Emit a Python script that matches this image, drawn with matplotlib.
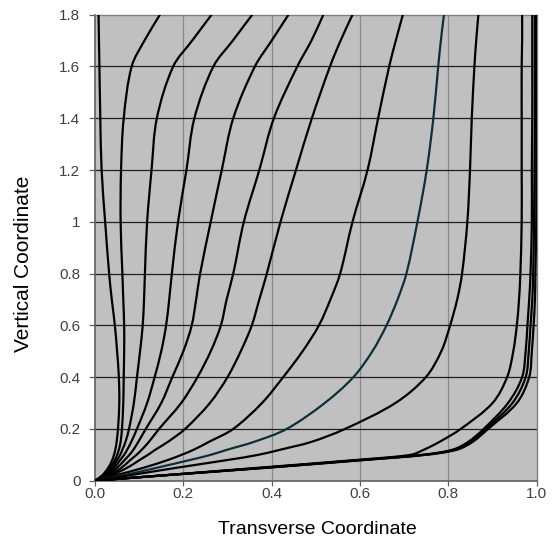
import matplotlib
matplotlib.use("Agg")
import matplotlib.pyplot as plt
from matplotlib.path import Path
from matplotlib.patches import PathPatch
import numpy as np

plt.rcParams['font.family'] = ['Liberation Sans', 'DejaVu Sans']

# common vertical levels
y_levels = [0, 0.02, 0.05, 0.08, 0.10, 0.12, 0.15, 0.2, 0.3, 0.4, 0.5, 0.6,
            0.7, 0.8, 1.0, 1.2, 1.4, 1.6, 1.7, 1.8]

c1 = [0, 0.016, 0.030, 0.039, 0.043, 0.046, 0.049, 0.052, 0.055, 0.054, 0.050, 0.045, 0.038, 0.032, 0.023, 0.015, 0.012, 0.010, 0.009, 0.008]
c2 = [0, 0.018, 0.034, 0.045, 0.050, 0.054, 0.058, 0.061, 0.064, 0.065, 0.066, 0.066, 0.064, 0.062, 0.058, 0.059, 0.065, 0.083, 0.112, 0.147]
c3 = [0, 0.020, 0.038, 0.050, 0.057, 0.062, 0.069, 0.077, 0.088, 0.095, 0.102, 0.108, 0.111, 0.113, 0.118, 0.128, 0.140, 0.177, 0.220, 0.264]
c4 = [0, 0.022, 0.043, 0.057, 0.066, 0.073, 0.082, 0.095, 0.118, 0.135, 0.150, 0.161, 0.168, 0.174, 0.188, 0.207, 0.225, 0.268, 0.312, 0.356]
c5 = [0, 0.025, 0.050, 0.067, 0.078, 0.087, 0.098, 0.115, 0.150, 0.175, 0.200, 0.219, 0.229, 0.238, 0.262, 0.287, 0.313, 0.362, 0.400, 0.438]
c6 = [0, 0.030, 0.060, 0.080, 0.094, 0.106, 0.122, 0.145, 0.195, 0.232, 0.262, 0.285, 0.298, 0.313, 0.337, 0.372, 0.405, 0.458, 0.490, 0.517]
c7 = [0, 0.035, 0.073, 0.101, 0.120, 0.137, 0.165, 0.204, 0.260, 0.300, 0.330, 0.355, 0.372, 0.389, 0.420, 0.455, 0.491, 0.532, 0.556, 0.583]
c8 = [0, 0.045, 0.110, 0.165, 0.196, 0.224, 0.258, 0.313, 0.378, 0.426, 0.470, 0.507, 0.533, 0.555, 0.583, 0.617, 0.641, 0.666, 0.681, 0.697]
c9 = [0, 0.062, 0.140, 0.215, 0.262, 0.300, 0.360, 0.434, 0.520, 0.585, 0.628, 0.660, 0.685, 0.705, 0.730, 0.751, 0.766, 0.777, 0.783, 0.790]
c10 = [0, 0.075, 0.185, 0.300, 0.370, 0.420, 0.490, 0.566, 0.680, 0.749, 0.784, 0.804, 0.820, 0.831, 0.843, 0.849, 0.853, 0.859, 0.863, 0.868]
c11 = [0, 0.150, 0.370, 0.590, 0.715, 0.745, 0.780, 0.828, 0.900, 0.933, 0.947, 0.955, 0.960, 0.963, 0.966, 0.966, 0.966, 0.966, 0.967, 0.967]
c12 = [0, 0.150, 0.380, 0.600, 0.740, 0.810, 0.845, 0.880, 0.935, 0.967, 0.975, 0.979, 0.983, 0.986, 0.989, 0.989, 0.990, 0.990, 0.990, 0.990]
c13 = [0, 0.150, 0.385, 0.605, 0.745, 0.815, 0.850, 0.885, 0.945, 0.975, 0.982, 0.986, 0.990, 0.992, 0.994, 0.995, 0.996, 0.996, 0.996, 0.996]
c14 = [0, 0.150, 0.390, 0.610, 0.750, 0.820, 0.855, 0.890, 0.955, 0.983, 0.989, 0.993, 0.996, 0.997, 0.999, 0.999, 1.000, 1.000, 1.000, 1.000]

curves = [c1, c2, c3, c4, c5, c6, c7, c8, c9, c10, c11, c12, c13, c14]
curve_colors = ['black'] * 8 + ['#0e2f38'] + ['black'] * 5

x_ticks = [0.0, 0.2, 0.4, 0.6, 0.8, 1.0]
x_tick_labels = ['0.0', '0.2', '0.4', '0.6', '0.8', '1.0']
y_ticks = [0, 0.2, 0.4, 0.6, 0.8, 1.0, 1.2, 1.4, 1.6, 1.8]
y_tick_labels = ['0', '0.2', '0.4', '0.6', '0.8', '1', '1.2', '1.4', '1.6', '1.8']

W, H = 553, 540
AX_L, AX_R, AX_B, AX_T = 95, 536.7, 480.7, 14.7
fig = plt.figure(figsize=(W / 100, H / 100), dpi=100)
ax = fig.add_axes([AX_L / W, (H - AX_B) / H, (AX_R - AX_L) / W, (AX_B - AX_T) / H])
ax.set_facecolor('#c0c0c0')
ax.set_xlim(0, 1)
ax.set_ylim(0, 1.8)


def smooth_path(xs, ys, sx, sy):
    """Smoothed line through the points (cubic Bezier segments, like a
    spreadsheet 'smoothed line'); tangents from chord-length differences."""
    P = np.column_stack([xs, ys]).astype(float)
    S = P * np.array([sx, sy])
    d = np.hypot(*np.diff(S, axis=0).T)
    d[d == 0] = 1e-9
    t = np.concatenate([[0], np.cumsum(d)])
    n = len(P)
    M = np.zeros_like(P)
    M[0] = (P[1] - P[0]) / (t[1] - t[0])
    M[-1] = (P[-1] - P[-2]) / (t[-1] - t[-2])
    for i in range(1, n - 1):
        M[i] = (P[i + 1] - P[i - 1]) / (t[i + 1] - t[i - 1])
    verts = [P[0]]
    codes = [Path.MOVETO]
    for i in range(n - 1):
        h = t[i + 1] - t[i]
        verts += [P[i] + M[i] * h / 3, P[i + 1] - M[i + 1] * h / 3, P[i + 1]]
        codes += [Path.CURVE4] * 3
    return Path(verts, codes)


for x in x_ticks[1:-1]:
    ax.axvline(x, color='#8a8a8a', lw=0.9, zorder=1)
for y in y_ticks[1:-1]:
    ax.axhline(y, color='#202020', lw=0.9, zorder=1)

sx, sy = (AX_R - AX_L) / 1.0, (AX_B - AX_T) / 1.8
for xs, col in zip(curves, curve_colors):
    ax.add_patch(PathPatch(smooth_path(xs, y_levels, sx, sy), fill=False,
                           edgecolor=col, lw=1.6, capstyle='round',
                           joinstyle='round', zorder=3))

ax.set_xticks(x_ticks)
ax.set_xticklabels(x_tick_labels)
ax.set_yticks(y_ticks)
ax.set_yticklabels(y_tick_labels)
ax.tick_params(axis='both', direction='out', width=0.9,
               color='#606060', labelcolor='#404040', labelsize=11)
ax.tick_params(axis='x', length=3.5, pad=1)
ax.tick_params(axis='y', length=4.5, pad=6)

for side in ['left', 'bottom']:
    ax.spines[side].set_color('#606060')
    ax.spines[side].set_linewidth(1.2)
for side in ['top', 'right']:
    ax.spines[side].set_color('#808080')
    ax.spines[side].set_linewidth(1.0)

ax.set_xlabel('Transverse Coordinate', fontsize=14, color='black', va='baseline')
ax.xaxis.set_label_coords(0.504, (AX_B - 534) / (AX_B - AX_T))
ax.set_ylabel('Vertical Coordinate', fontsize=15, color='black', va='center')
ax.yaxis.set_label_coords((23 - AX_L) / (AX_R - AX_L), 0.466)

fig.savefig('out.png', dpi=100)
